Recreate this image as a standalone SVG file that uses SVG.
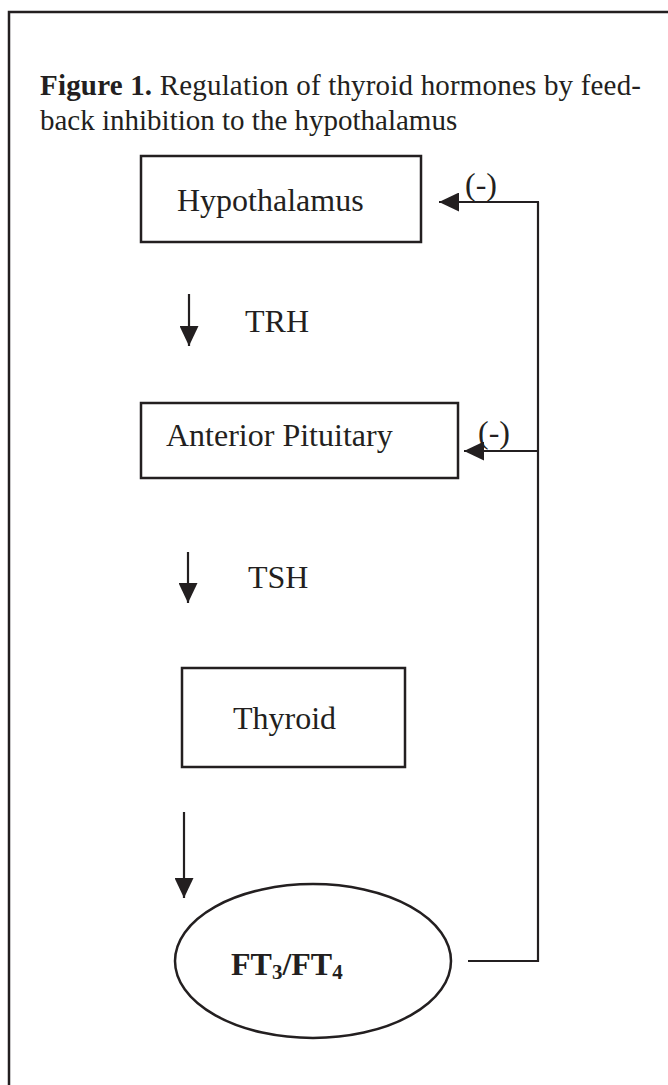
<svg xmlns="http://www.w3.org/2000/svg" width="668" height="1085" viewBox="0 0 668 1085">
<style>
.frame{fill:none;stroke:#231f20;stroke-width:2.5}
.box{fill:#fff;stroke:#231f20;stroke-width:2.5}
.lbl{font-family:"Liberation Serif","Times New Roman",serif;font-size:32px;fill:#231f20}
.bold{font-weight:bold}
.title{font-family:"Liberation Serif","Times New Roman",serif;font-size:29px;fill:#231f20}
.conn{fill:none;stroke:#231f20;stroke-width:2.2}
.arr{marker-end:url(#ah)}
</style>
<defs>
<marker id="ah" markerUnits="userSpaceOnUse" markerWidth="20" markerHeight="19" refX="20" refY="9.5" orient="auto" viewBox="0 0 20 19">
<path d="M0,0 L20,9.5 L0,19 z" fill="#231f20"/>
</marker>
</defs>
<path class="frame" d="M9,1085 V12 H668"/>
<g id="title">
<text class="title" x="40" y="95" textLength="601" lengthAdjust="spacing"><tspan class="bold" font-weight="bold">Figure 1.</tspan> Regulation of thyroid hormones by feed-</text>
<text class="title" x="40" y="130">back inhibition to the hypothalamus</text>
</g>
<g id="hypothalamus">
<rect class="box" x="141" y="156" width="280" height="86"/>
<text class="lbl" x="177" y="211">Hypothalamus</text>
</g>
<g id="anterior-pituitary">
<rect class="box" x="141" y="403" width="317" height="75"/>
<text class="lbl" x="166" y="446">Anterior Pituitary</text>
</g>
<g id="thyroid">
<rect class="box" x="182" y="668" width="223" height="99"/>
<text class="lbl" x="233" y="729">Thyroid</text>
</g>
<g id="ft3-ft4">
<ellipse class="box" cx="313" cy="961" rx="138" ry="77"/>
<text class="lbl bold" x="231" y="975">FT<tspan font-size="21" dy="4">3</tspan><tspan dy="-4">/FT</tspan><tspan font-size="21" dy="4">4</tspan></text>
</g>
<g id="connectors">
<line class="conn arr" x1="189" y1="294" x2="189" y2="346"/>
<text class="lbl" x="245" y="332">TRH</text>
<line class="conn arr" x1="188" y1="552" x2="188" y2="603"/>
<text class="lbl" x="248" y="588">TSH</text>
<line class="conn arr" x1="184" y1="812" x2="184" y2="898"/>
<path class="conn" d="M468,961 H538 V202"/>
<line class="conn arr" x1="539" y1="202" x2="439" y2="202"/>
<text class="lbl" x="465" y="195">(-)</text>
<line class="conn arr" x1="539" y1="451" x2="464" y2="451"/>
<text class="lbl" x="478" y="443">(-)</text>
</g>
</svg>
